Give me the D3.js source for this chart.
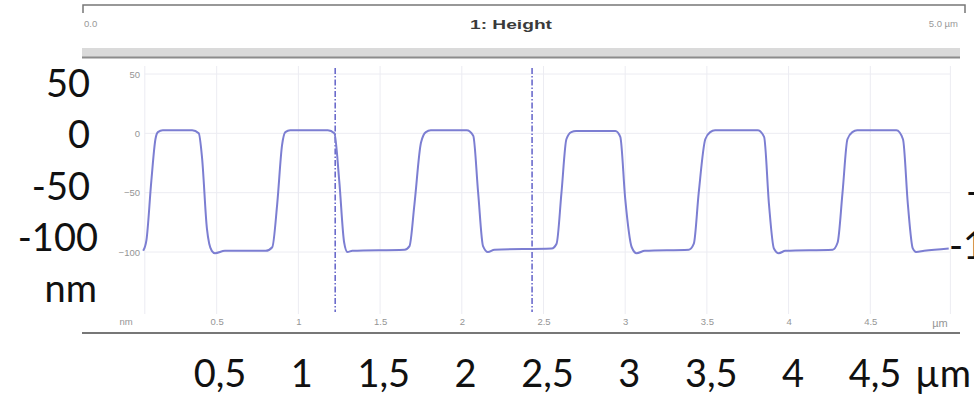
<!DOCTYPE html>
<html>
<head>
<meta charset="utf-8">
<script src="https://cdn.jsdelivr.net/npm/d3@7"></script>
<style>
  body { margin: 0; background: #fff; }
  svg { display: block; font-family: "Liberation Sans", Arial, sans-serif; }
  .small text { fill: #959595; font-size: 9.5px; }
  .small path, .small line { display: none; }
  .big { font-family: Lato, "Open Sans", sans-serif; font-size: 38px; fill: #111; }
</style>
</head>
<body>
<svg id="chart" width="974" height="397"></svg>
<script>
// height profile, x in µm, height in nm
const profileX = [0.05, 0.07, 0.10, 0.125, 0.14, 0.17, 0.35, 0.39, 0.41, 0.44, 0.47, 0.49, 0.55, 0.80, 0.84, 0.87, 0.90, 0.92, 0.95,
  1.18, 1.22, 1.25, 1.28, 1.30, 1.33, 1.65, 1.68, 1.71, 1.75, 1.78, 1.81,
  2.03, 2.07, 2.10, 2.13, 2.16, 2.20, 2.55, 2.58, 2.61, 2.64, 2.67, 2.70,
  2.94, 2.97, 3.00, 3.04, 3.07, 3.12, 3.39, 3.42, 3.45, 3.49, 3.52, 3.55,
  3.81, 3.85, 3.88, 3.91, 3.94, 3.98, 4.27, 4.30, 4.33, 4.36, 4.39, 4.42,
  4.66, 4.70, 4.73, 4.76, 4.78, 4.83, 4.98]
const profileH = [-99, -90, -40, -5, 1, 2.5, 2.5, 0, -20, -80, -99, -101, -99, -99, -96, -60, -10, 1, 2.5,
  2.5, 0, -40, -92, -100, -99, -98, -95, -60, -8, 1, 2.5,
  2.5, -2, -50, -95, -100, -98, -97, -93, -50, -5, 1, 2,
  2, -3, -55, -96, -101, -99, -98, -93, -50, -5, 1, 2.5,
  2.5, -3, -60, -97, -101, -99, -98, -92, -50, -5, 1, 2.5,
  2.5, -5, -60, -97, -100, -99, -97]

const cursorX = [1.225, 2.43]
const smallXTicks = [0.5, 1, 1.5, 2, 2.5, 3, 3.5, 4, 4.5]
const smallYTicks = [50, 0, -50, -100]
const bigXLabels = ['0,5', '1', '1,5', '2', '2,5', '3', '3,5', '4', '4,5']
const bigYLabels = ['50', '0', '-50', '-100']

const svg = d3.select('#chart')

const x = d3.scaleLinear().domain([0, 5]).range([135, 952])
const y = d3.scaleLinear().domain([50, -100]).range([74, 252])

// header box
svg.append('path')
    .attr('d', 'M83,13 L83,5 L965,5 L965,13')
    .attr('fill', 'none').attr('stroke', '#777').attr('stroke-width', 1.5)
svg.append('rect')
    .attr('x', 82).attr('y', 48).attr('width', 878).attr('height', 9)
    .attr('fill', '#dadada')
svg.append('line')
    .attr('x1', 82).attr('x2', 960).attr('y1', 57.5).attr('y2', 57.5)
    .attr('stroke', '#8c8c8c').attr('stroke-width', 2)
svg.append('text').text('0.0')
    .attr('x', 84).attr('y', 27).attr('font-size', 9.5).attr('fill', '#999')
svg.append('text').text('1: Height')
    .attr('x', 470).attr('y', 29)
    .attr('font-size', 12.5).attr('font-weight', 'bold').attr('fill', '#3a3a3a')
    .attr('textLength', 82).attr('lengthAdjust', 'spacingAndGlyphs')
svg.append('text').text('5.0 µm')
    .attr('x', 958).attr('y', 27).attr('text-anchor', 'end')
    .attr('font-size', 9.5).attr('fill', '#999')

// grid
const grid = svg.append('g')
grid.selectAll('line.v')
    .data([0.06].concat(smallXTicks, [4.99]))
    .join('line')
    .attr('x1', d => x(d)).attr('x2', d => x(d))
    .attr('y1', 66).attr('y2', 314)
    .attr('stroke', '#ececf2')
grid.selectAll('line.h')
    .data(smallYTicks)
    .join('line')
    .attr('x1', x(0.06)).attr('x2', x(4.99))
    .attr('y1', d => y(d)).attr('y2', d => y(d))
    .attr('stroke', '#ececf2')

// small instrument axes
svg.append('g').classed('small', true)
    .attr('transform', 'translate(140,0)')
    .call(d3.axisLeft(y).tickValues(smallYTicks).tickSize(0).tickPadding(0))
svg.append('g').classed('small', true)
    .attr('transform', 'translate(0,318)')
    .call(d3.axisBottom(x).tickValues(smallXTicks).tickSize(0).tickPadding(0)
        .tickFormat(d3.format('.1~f')))
svg.append('text').text('nm').attr('x', 126).attr('y', 325)
    .attr('font-size', 9.5).attr('fill', '#959595').attr('text-anchor', 'middle')
svg.append('text').text('µm').attr('x', 940).attr('y', 327)
    .attr('font-size', 11).attr('fill', '#959595').attr('text-anchor', 'middle')

// bottom rule
svg.append('line')
    .attr('x1', 82).attr('x2', 960).attr('y1', 333).attr('y2', 333)
    .attr('stroke', '#777').attr('stroke-width', 2)

// cursors
svg.selectAll('line.cursor')
    .data(cursorX)
    .join('line').attr('class', 'cursor')
    .attr('x1', d => x(d)).attr('x2', d => x(d))
    .attr('y1', 68).attr('y2', 312)
    .attr('stroke', '#4a4ac0').attr('stroke-width', 1.3)
    .attr('stroke-dasharray', '6,2,1.5,2')

// profile
const line = d3.line()
    .x((d, i) => x(profileX[i]))
    .y(d => y(d))
    .curve(d3.curveMonotoneX)
svg.append('path')
    .datum(profileH)
    .attr('d', line)
    .attr('fill', 'none')
    .attr('stroke', '#7c7ed2')
    .attr('stroke-width', 2)

// overlay labels added on top of the image
const bx = d3.scaleLinear().domain([0.5, 4.5]).range([220, 875])
const by = d3.scaleLinear().domain([50, -100]).range([97, 251])
svg.selectAll('text.bx')
    .data(bigXLabels)
    .join('text').attr('class', 'big')
    .attr('x', (d, i) => bx(smallXTicks[i]))
    .attr('y', 387)
    .attr('text-anchor', 'middle')
    .text(d => d)
svg.append('text').attr('class', 'big').attr('x', 915).attr('y', 387).text('µm')

svg.selectAll('text.by')
    .data(bigYLabels)
    .join('text').attr('class', 'big')
    .attr('x', (d, i) => i === 3 ? 98 : 90)
    .attr('y', (d, i) => by(smallYTicks[i]))
    .attr('text-anchor', 'end')
    .text(d => d)
svg.append('text').attr('class', 'big').attr('x', 97).attr('y', 302)
    .attr('text-anchor', 'end').text('nm')

// right side labels cut off by the frame, as in the source figure
svg.append('text').attr('class', 'big').attr('x', 949).attr('y', 259).text('-100')
svg.append('text').attr('class', 'big').attr('x', 966).attr('y', 205).text('-50')
</script>
</body>
</html>
